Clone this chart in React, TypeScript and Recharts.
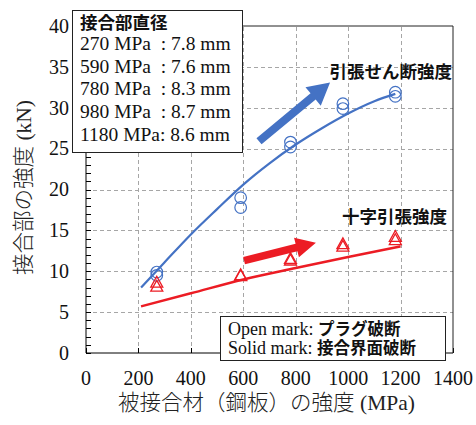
import {
  ComposedChart,
  Line,
  ReferenceLine,
  Scatter,
  XAxis,
  YAxis,
} from "recharts";

const BLUE = "#4472c4";
const RED = "#ec1c24";
const GRID = "#a6a6a6";
const INK = "#111";
const SERIF = '"Liberation Serif", "Times New Roman", serif';
const GOTHIC = '"Noto Sans CJK JP", "Noto Sans", sans-serif';

const X_TICKS = [0, 200, 400, 600, 800, 1000, 1200, 1400];
const Y_TICKS = [0, 5, 10, 15, 20, 25, 30, 35, 40];
const Y_MINOR = [
  0, 1, 2, 3, 4, 5, 6, 7, 8, 9, 10, 11, 12, 13, 14, 15, 16, 17, 18, 19, 20,
  21, 22, 23, 24, 25, 26, 27, 28, 29, 30, 31, 32, 33, 34, 35, 36, 37, 38, 39, 40,
];

// measured points (two specimens per grade)
const STRENGTH_MPA = [270, 590, 780, 980, 1180];
const SHEAR_KN_A = [9.9, 19.0, 25.8, 30.5, 31.9];
const SHEAR_KN_B = [9.5, 17.8, 25.2, 29.9, 31.4];
const CROSS_KN_A = [8.6, 9.5, 11.5, 13.3, 14.2];
const CROSS_KN_B = [8.1, 9.4, 11.3, 13.0, 13.8];

// trend curves
const SHEAR_FIT_X = [210, 300, 400, 500, 600, 700, 800, 900, 1000, 1100, 1180];
const SHEAR_FIT_Y = [8.0, 11.1, 14.5, 17.6, 20.6, 23.2, 25.5, 27.5, 29.3, 30.8, 31.7];
const CROSS_FIT_X = [210, 400, 600, 800, 1000, 1200];
const CROSS_FIT_Y = [5.7, 7.3, 9.0, 10.4, 11.75, 13.05];

// arrows (tail, head) in data units
const SHEAR_ARROW = [{ x: 660, y: 25.9 }, { x: 931, y: 33.1 }];
const CROSS_ARROW = [{ x: 603, y: 11.3 }, { x: 877, y: 13.5 }];

const DIA_GRADES = ["270", "590", "780", "980", "1180"];
const DIA_MM = ["7.8", "7.6", "8.3", "8.7", "8.6"];

const X_MAX = 1400;
const Y_MAX = 40;
const PLOT_CORNERS = [{ x: 0, y: 0 }, { x: X_MAX, y: Y_MAX }];

const pts = (xs: number[], ys: number[]) => xs.map((x, i) => ({ x, y: ys[i] }));

const Y_GAP = 17;
const X_GAP = 18;

function YTick(p: any) {
  const v = Number(p.payload?.value);
  if (v % 5 !== 0) return <g />;
  return (
    <text x={p.x} y={p.y} dy="0.34em" textAnchor="end" fontFamily={SERIF} fontSize={20} fill={INK}>
      {v}
    </text>
  );
}

function XTick(p: any) {
  return (
    <text x={p.x} y={p.y} dy="0.71em" textAnchor="middle" fontFamily={SERIF} fontSize={20} fill={INK}>
      {p.payload?.value}
    </text>
  );
}

// dashed grid + inward ticks, laid out between the scaled plot corners
const dashH = (x0: number, x1: number, y: number) => {
  let d = "";
  for (let x = x0; x < x1; x += 7) d += `M${x},${y}H${Math.min(x + 4, x1)}`;
  return d;
};
const dashV = (y0: number, y1: number, x: number) => {
  let d = "";
  for (let y = y0; y > y1; y -= 7) d += `M${x},${y}V${Math.max(y - 4, y1)}`;
  return d;
};

function GridShape(p: any) {
  const { x1, y1, x2, y2 } = p;
  const px = (v: number) => Math.round(x1 + ((x2 - x1) * v) / X_MAX) + 0.5;
  const py = (v: number) => Math.round(y1 + ((y2 - y1) * v) / Y_MAX) + 0.5;
  let grid = "";
  Y_TICKS.filter((v) => v > 0 && v < Y_MAX).forEach((v) => (grid += dashH(x1, x2, py(v))));
  X_TICKS.filter((v) => v > 0 && v < X_MAX).forEach((v) => (grid += dashV(y1, y2, px(v))));
  let ticks = "";
  Y_MINOR.forEach((v) => (ticks += `M${x1},${py(v)}h5`));
  X_TICKS.forEach((v) => (ticks += `M${px(v)},${y1}v-5`));
  return (
    <g>
      <path d={grid} stroke={GRID} strokeWidth={1} fill="none" />
      <path d={ticks} stroke="#000" strokeWidth={1} fill="none" />
    </g>
  );
}

const Ring = (p: any) => (
  <circle cx={p.cx} cy={p.cy} r={5.8} fill="none" stroke={BLUE} strokeWidth={1.2} />
);

const Tri = (p: any) => {
  const { cx, cy } = p;
  return (
    <polygon
      points={`${cx},${cy - 6.4} ${cx - 6},${cy + 4.4} ${cx + 6},${cy + 4.4}`}
      fill="none"
      stroke={RED}
      strokeWidth={1.3}
    />
  );
};

const arrow = (color: string, shaft: number, headW: number, headL: number) => (p: any) => {
  const { x1, y1, x2, y2 } = p;
  const len = Math.hypot(x2 - x1, y2 - y1) || 1;
  const ux = (x2 - x1) / len;
  const uy = (y2 - y1) / len;
  const nx = -uy;
  const ny = ux;
  const bx = x2 - ux * headL;
  const by = y2 - uy * headL;
  const q = [
    [x1 + (nx * shaft) / 2, y1 + (ny * shaft) / 2],
    [bx + (nx * shaft) / 2, by + (ny * shaft) / 2],
    [bx + (nx * headW) / 2, by + (ny * headW) / 2],
    [x2, y2],
    [bx - (nx * headW) / 2, by - (ny * headW) / 2],
    [bx - (nx * shaft) / 2, by - (ny * shaft) / 2],
    [x1 - (nx * shaft) / 2, y1 - (ny * shaft) / 2],
  ];
  return <polygon points={q.map((c) => c.join(",")).join(" ")} fill={color} />;
};

function XTitle(props: any) {
  const vb = props.viewBox || { x: 86, y: 353, width: 367 };
  return (
    <text x={vb.x + vb.width / 2 - 3} y={vb.y + 56.5} textAnchor="middle" fill="#222" fontSize={21.5}>
      <tspan fontFamily={GOTHIC} fontWeight={300}>被接合材（鋼板）の強度</tspan>
      <tspan fontFamily={SERIF}> (MPa)</tspan>
    </text>
  );
}

function YTitle(props: any) {
  const vb = props.viewBox || { x: 0, y: 26, height: 327 };
  const x = vb.x + 30.5;
  const y = vb.y + vb.height / 2 - 2;
  return (
    <text x={x} y={y} transform={`rotate(-90 ${x} ${y})`} textAnchor="middle" fill="#222" fontSize={21.5}>
      <tspan fontFamily={GOTHIC} fontWeight={300}>接合部の強度</tspan>
      <tspan fontFamily={SERIF}> (kN)</tspan>
    </text>
  );
}

export default function App() {
  return (
    <div style={{ position: "relative", width: 476, height: 425 }}>
      <style>{`body{margin:0}`}</style>
      <ComposedChart width={476} height={425} margin={{ top: 26, right: 23, left: 0, bottom: 0 }}>
        <XAxis
          type="number"
          dataKey="x"
          domain={[0, X_MAX]}
          ticks={X_TICKS}
          interval={0}
          height={72}
          tickSize={0}
          tickMargin={X_GAP}
          tickLine={false}
          axisLine={{ stroke: "#000" }}
          tick={<XTick />}
          label={XTitle}
        />
        <YAxis
          type="number"
          dataKey="y"
          domain={[0, Y_MAX]}
          ticks={Y_MINOR}
          interval={0}
          width={86}
          tickSize={0}
          tickMargin={Y_GAP}
          tickLine={false}
          axisLine={{ stroke: "#000" }}
          tick={<YTick />}
          label={YTitle}
        />
        <ReferenceLine segment={PLOT_CORNERS} shape={GridShape} ifOverflow="visible" />
        <ReferenceLine y={Y_MAX} stroke="#222" ifOverflow="visible" />
        <ReferenceLine x={X_MAX} stroke="#222" ifOverflow="visible" />
        <ReferenceLine segment={SHEAR_ARROW} shape={arrow(BLUE, 8, 24, 22)} />
        <ReferenceLine segment={CROSS_ARROW} shape={arrow(RED, 7.5, 20, 20)} />
        <Line data={pts(SHEAR_FIT_X, SHEAR_FIT_Y)} dataKey="y" type="monotone" stroke={BLUE} strokeWidth={2.2} dot={false} isAnimationActive={false} />
        <Line data={pts(CROSS_FIT_X, CROSS_FIT_Y)} dataKey="y" type="monotone" stroke={RED} strokeWidth={2.5} dot={false} isAnimationActive={false} />
        <Scatter data={pts(STRENGTH_MPA, SHEAR_KN_A)} dataKey="y" shape={Ring} isAnimationActive={false} />
        <Scatter data={pts(STRENGTH_MPA, SHEAR_KN_B)} dataKey="y" shape={Ring} isAnimationActive={false} />
        <Scatter data={pts(STRENGTH_MPA, CROSS_KN_A)} dataKey="y" shape={Tri} isAnimationActive={false} />
        <Scatter data={pts(STRENGTH_MPA, CROSS_KN_B)} dataKey="y" shape={Tri} isAnimationActive={false} />
      </ComposedChart>

      <div
        style={{
          position: "absolute",
          left: 72,
          top: 10,
          width: 171,
          height: 143,
          boxSizing: "border-box",
          border: "1px solid #222",
          background: "#fff",
          paddingLeft: 7,
          color: INK,
        }}
      >
        <div style={{ fontFamily: GOTHIC, fontWeight: 700, fontSize: 17.5, lineHeight: "22px" }}>接合部直径</div>
        {DIA_GRADES.map((g, i) => (
          <div key={g} style={{ fontFamily: SERIF, fontSize: 19.5, lineHeight: "22.7px", whiteSpace: "pre" }}>
            {`${g} MPa${g.length === 3 ? "  " : ""}: ${DIA_MM[i]} mm`}
          </div>
        ))}
      </div>

      <div
        style={{
          position: "absolute",
          left: 220,
          top: 316,
          width: 226,
          height: 45,
          boxSizing: "border-box",
          border: "1px solid #222",
          background: "#fff",
          padding: "3px 0 0 7px",
          color: INK,
        }}
      >
        <div style={{ fontFamily: SERIF, fontSize: 18, lineHeight: "17.5px", whiteSpace: "pre" }}>
          Open mark: <span style={{ fontFamily: GOTHIC, fontWeight: 700, fontSize: 16.5 }}>プラグ破断</span>
        </div>
        <div style={{ fontFamily: SERIF, fontSize: 18, lineHeight: "17.5px", whiteSpace: "pre" }}>
          Solid mark: <span style={{ fontFamily: GOTHIC, fontWeight: 700, fontSize: 16.5 }}>接合界面破断</span>
        </div>
      </div>

      <div
        style={{
          position: "absolute",
          right: 24,
          top: 61,
          fontFamily: GOTHIC,
          fontWeight: 700,
          fontSize: 17.5,
          lineHeight: "20px",
          color: INK,
          whiteSpace: "nowrap",
        }}
      >
        引張せん断強度
      </div>
      <div
        style={{
          position: "absolute",
          right: 29,
          top: 206,
          fontFamily: GOTHIC,
          fontWeight: 700,
          fontSize: 17.5,
          lineHeight: "20px",
          color: INK,
          whiteSpace: "nowrap",
        }}
      >
        十字引張強度
      </div>
    </div>
  );
}
